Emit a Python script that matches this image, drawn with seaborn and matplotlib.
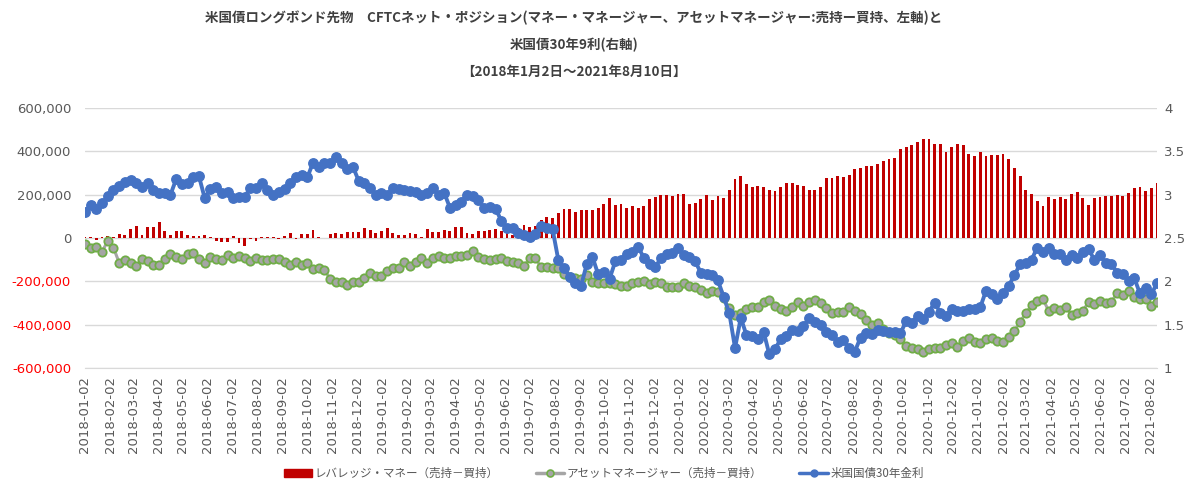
import numpy as np
import pandas as pd
import matplotlib
matplotlib.use("Agg")
import matplotlib.pyplot as plt
import matplotlib.dates as mdates
from matplotlib.patches import Patch
from matplotlib.lines import Line2D
import seaborn as sns

# weekly data, 2018-01-02 .. 2021-08-10 (values in contracts / %)
dates = pd.date_range("2018-01-02", periods=189, freq="7D")

leveraged = [  # レバレッジ・マネー（売持－買持）, thousands
    6, 3, -9, 6, 9, 3, 18, 14, 40, 55, 15, 49, 52, 72, 34, 14, 32, 34, 14, 11,
    9, 12, 3, -15, -17, -17, 9, -22, -37, -6, -12, 6, 5, 6, -6, 9, 25, -6, 18, 18,
    37, 6, -2, 18, 22, 18, 29, 28, 29,
    45, 37, 25, 32, 48, 22, 15, 12, 22, 18, 6, 42, 26, 26, 37, 34, 51, 49, 25, 17,
    32, 32, 37, 42, 32, 25, 15, 45, 60, 52, 57, 83, 98, 91, 114, 132, 132, 118, 129, 129,
    129, 137, 157, 183, 152, 155, 137, 149, 140,
    148, 178, 191, 200, 200, 192, 201, 205, 157, 160, 182, 198, 175, 195, 183, 222, 272, 288, 249, 237,
    238, 234, 222, 215, 237, 252, 252, 245, 238, 222, 220, 234, 278, 278, 288, 282, 292, 320, 325, 334,
    332, 342, 355, 365, 371, 412, 420, 431, 445,
    457, 455, 434, 435, 398, 418, 432, 429, 388, 378, 395, 378, 385, 383, 386, 365, 325, 288, 222, 205,
    171, 148, 188, 182, 191, 180, 202, 211, 186, 152, 186, 188, 192, 192, 197, 195, 208, 231, 237, 218,
    229, 252,
]

asset_mgr = [  # アセットマネージャー（売持－買持）, thousands
    -29, -45, -40, -63, -14, -45, -114, -102, -114, -128, -98, -106, -123, -123, -97, -72, -86, -97, -72, -71,
    -97, -114, -86, -98, -102, -78, -94, -82, -91, -106, -91, -102, -103, -98, -95, -109, -125, -109, -125, -117,
    -143, -137, -148, -189, -205, -201, -217, -205, -205,
    -183, -163, -174, -174, -151, -140, -137, -112, -128, -109, -94, -117, -94, -83, -91, -91, -83, -83, -78, -58,
    -89, -98, -102, -98, -94, -105, -109, -117, -128, -94, -94, -135, -135, -140, -140, -166, -178, -183, -189, -171,
    -202, -209, -209, -209, -212, -222, -222, -209, -202,
    -197, -212, -202, -206, -225, -225, -225, -209, -220, -228, -240, -252, -243, -248, -278, -325, -355, -348, -329, -320,
    -317, -294, -286, -314, -329, -335, -320, -297, -314, -297, -286, -298, -325, -345, -340, -340, -317, -337, -352, -378,
    -401, -394, -421, -440, -448, -468, -498, -509, -514,
    -528, -514, -509, -509, -494, -486, -501, -474, -460, -481, -486, -468, -463, -474, -478, -458, -429, -386, -348, -309,
    -291, -282, -337, -325, -332, -320, -355, -348, -335, -297, -306, -291, -298, -294, -255, -263, -245, -271, -282, -283,
    -314, -297,
]

yield30 = [  # 米国国債30年金利, %
    2.80, 2.88, 2.83, 2.90, 2.98, 3.05, 3.10, 3.15, 3.17, 3.14, 3.09, 3.13, 3.05, 3.02, 3.02, 3.00, 3.18, 3.12, 3.13, 3.20,
    3.21, 2.96, 3.07, 3.09, 3.02, 3.03, 2.96, 2.97, 2.97, 3.08, 3.08, 3.13, 3.05, 3.00, 3.03, 3.07, 3.14, 3.20, 3.23, 3.20,
    3.37, 3.32, 3.37, 3.36, 3.43, 3.36, 3.30, 3.32, 3.16,
    3.14, 3.08, 3.00, 3.02, 3.00, 3.08, 3.06, 3.05, 3.04, 3.03, 3.00, 3.02, 3.08, 3.00, 3.02, 2.85, 2.88, 2.92, 3.00, 2.98,
    2.94, 2.85, 2.86, 2.84, 2.70, 2.61, 2.62, 2.56, 2.53, 2.51, 2.55, 2.64, 2.62, 2.60, 2.25, 2.15, 2.05, 1.98, 1.95, 2.20,
    2.28, 2.08, 2.11, 2.03, 2.23, 2.25, 2.32, 2.34, 2.40,
    2.27, 2.20, 2.16, 2.27, 2.32, 2.33, 2.39, 2.30, 2.28, 2.23, 2.10, 2.08, 2.07, 2.01, 1.82, 1.63, 1.23, 1.58, 1.38, 1.37,
    1.33, 1.42, 1.16, 1.22, 1.33, 1.37, 1.44, 1.43, 1.48, 1.58, 1.53, 1.50, 1.41, 1.38, 1.30, 1.32, 1.23, 1.19, 1.35, 1.40,
    1.39, 1.44, 1.43, 1.42, 1.41, 1.40, 1.54, 1.52, 1.60,
    1.57, 1.65, 1.75, 1.64, 1.60, 1.68, 1.66, 1.66, 1.68, 1.68, 1.70, 1.89, 1.85, 1.80, 1.87, 1.95, 2.07, 2.20, 2.21, 2.25,
    2.39, 2.34, 2.39, 2.32, 2.32, 2.25, 2.30, 2.27, 2.34, 2.37, 2.25, 2.30, 2.21, 2.20, 2.10, 2.09, 2.00, 2.04, 1.86, 1.92,
    1.85, 1.98,
]

title_lines = [
    "米国債ロングボンド先物　CFTCネット・ポジション(マネー・マネージャー、アセットマネージャー:売持ー買持、左軸)と",
    "米国債30年9利(右軸)",
    "【2018年1月2日～2021年8月10日】",
]
legend_labels = ["レバレッジ・マネー（売持－買持）", "アセットマネージャー（売持－買持）", "米国国債30年金利"]

month_ticks = pd.date_range("2018-01-01", "2021-08-01", freq="MS") + pd.Timedelta(days=1)
left_ticks = list(range(-600000, 600001, 200000))
right_ticks = [1, 1.5, 2, 2.5, 3, 3.5, 4]

sns.set_style("white")
plt.rcParams["font.family"] = ["DejaVu Sans"]
jp = ["Noto Sans CJK JP", "DejaVu Sans"]

RED = "#C00000"
GRAY = "#A5A5A5"
GREEN = "#70AD47"
BLUE = "#4472C4"
TXT = "#595959"

x = mdates.date2num(dates)
lev = np.array(leveraged) * 1000
am = np.array(asset_mgr) * 1000

fig = plt.figure(figsize=(12, 4.97), dpi=100)
ax = fig.add_axes([0.0708, 0.2596, 0.8934, 0.5231])

sns.barplot(x=x, y=lev, native_scale=True, ax=ax, color=RED, saturation=1,
            width=0.5, errorbar=None, linewidth=0, zorder=2)
sns.lineplot(x=x, y=am, ax=ax, color=GRAY, lw=2.2, marker="o", markersize=6,
             markerfacecolor=GRAY, markeredgecolor=GREEN, markeredgewidth=1.3, zorder=3)

ax2 = ax.twinx()
sns.lineplot(x=x, y=yield30, ax=ax2, color=BLUE, lw=2.8, marker="o", markersize=6.8,
             markerfacecolor=BLUE, markeredgecolor=BLUE, markeredgewidth=1, zorder=4)

ax.set_xlim(x[0], x[-1])
ax.set_ylim(-600000, 600000)
ax2.set_ylim(1, 4)

ax.set_axisbelow(True)
ax.grid(axis="y", color="#D9D9D9", lw=1)
ax.grid(axis="x", visible=False)
for s in ["left", "right", "top"]:
    ax.spines[s].set_visible(False)
for s in ax2.spines.values():
    s.set_visible(False)
ax.spines["bottom"].set_color("#D9D9D9")

ax.set_xticks(mdates.date2num(month_ticks))
ax.set_xticklabels([d.strftime("%Y-%m-%d") for d in month_ticks], rotation=90,
                   fontsize=9.5, color=TXT)
ax.tick_params(axis="x", length=4, color="#D9D9D9", pad=2)

ax.set_yticks(left_ticks)
ax.set_yticklabels([f"{v:,}" for v in left_ticks], fontsize=9.5)
ax.tick_params(axis="y", length=0, pad=10)

ax2.set_yticks(right_ticks)
ax2.set_yticklabels([f"{v:g}" for v in right_ticks], fontsize=9.5, color=TXT)
ax2.tick_params(axis="y", length=0, pad=5)

ax.set_xlabel("")
ax.set_ylabel("")
ax2.set_ylabel("")

for txt, yy in zip(title_lines, [0.964, 0.909, 0.855]):
    fig.text(0.478, yy, txt, ha="center", va="center", fontsize=9.7,
             fontweight="bold", family=jp, color="#404040")

handles = [
    Patch(facecolor=RED, edgecolor=RED),
    Line2D([], [], color=GRAY, lw=2.5, marker="o", markersize=5,
           markerfacecolor=GRAY, markeredgecolor=GREEN, markeredgewidth=1.2),
    Line2D([], [], color=BLUE, lw=2.5, marker="o", markersize=5,
           markerfacecolor=BLUE, markeredgecolor=BLUE),
]
leg = fig.legend(handles, legend_labels, loc="center", bbox_to_anchor=(0.503, 0.048),
                 ncol=3, frameon=False, handlelength=2.5, handletextpad=0.2,
                 columnspacing=3.2, prop={"family": jp, "size": 8.3})
for t in leg.get_texts():
    t.set_color(TXT)

# negative values on the left axis are shown in red
fig.canvas.draw()
for tick in ax.yaxis.get_major_ticks():
    tick.label1.set_color("#FF0000" if tick.get_loc() < 0 else TXT)

fig.savefig("out.png", dpi=100)
